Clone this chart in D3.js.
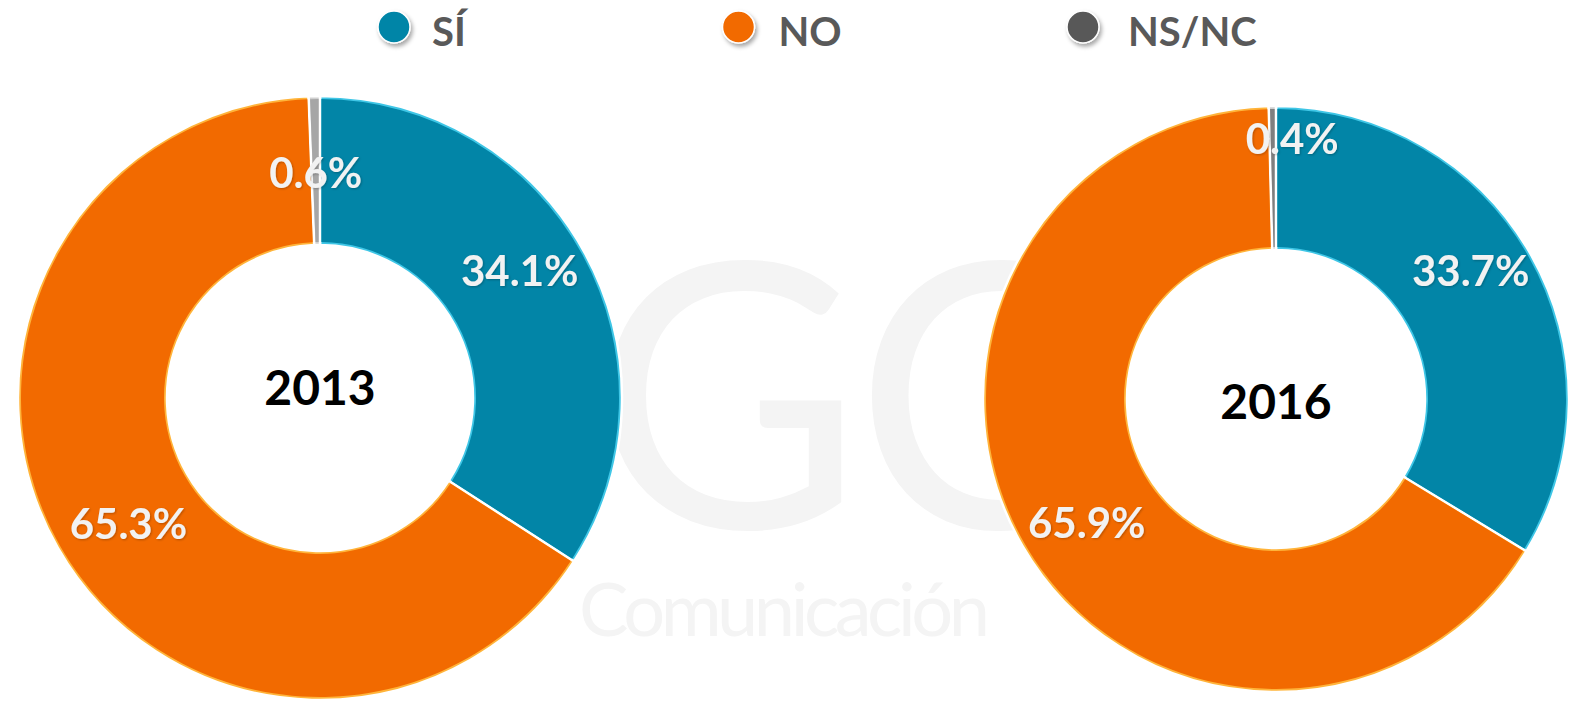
<!DOCTYPE html>
<html>
<head>
    <meta charset="utf-8">
    <title>SÍ / NO / NS-NC 2013 - 2016</title>
    <script src="https://cdn.jsdelivr.net/npm/d3@7/dist/d3.min.js"></script>
    <style>
        html, body { margin: 0; padding: 0; background: #fff; }
        svg { display: block; }
        text { font-family: Lato, "Open Sans", sans-serif; }
    </style>
</head>
<body>
<script>
    // datos
    var categories = ['SÍ', 'NO', 'NS/NC'];
    var years = ['2013', '2016'];
    var values2013 = [34.1, 65.3, 0.6];
    var values2016 = [33.7, 65.9, 0.4];

    var width = 1576, height = 701;
    var svg = d3.select('body').append('svg').attr('width', width).attr('height', height);

    var colors = d3.scaleOrdinal().domain(categories).range(['#0285a7', '#f26a00', '#595959']);
    var rimColors = d3.scaleOrdinal().domain(categories).range(['#3fc6e6', '#ffb43a', '#d6d6d6']);

    // cada donut: centro, radios, color del gris y ajustes de etiquetas
    var charts = [
        {year: years[0], values: values2013, cx: 320, cy: 398, R: 302, r: 153, gray: '#a6a6a6', yearDy: -10,
            nudge: [[0, -18], [6, 13], [0, 2]]},
        {year: years[1], values: values2016, cx: 1276, cy: 399, R: 293, r: 149, gray: '#7f7f7f', yearDy: 3,
            nudge: [[2, -20], [2, 13], [19, -39]]}
    ];

    var defs = svg.append('defs');
    defs.append('filter').attr('id', 'shadow').attr('x', '-50%').attr('y', '-50%').attr('width', '200%').attr('height', '200%')
        .append('feDropShadow').attr('dx', 2).attr('dy', 3).attr('stdDeviation', 2)
        .attr('flood-color', '#000').attr('flood-opacity', 0.35);
    defs.append('filter').attr('id', 'tshadow').attr('x', '-20%').attr('y', '-20%').attr('width', '140%').attr('height', '140%')
        .append('feDropShadow').attr('dx', 1).attr('dy', 1).attr('stdDeviation', 1)
        .attr('flood-color', '#000').attr('flood-opacity', 0.25);

    // marca de agua
    var wm = svg.append('g').attr('fill', '#f4f4f4');
    wm.append('text').attr('x', 592).attr('y', 528).attr('font-size', 370).attr('font-weight', 400)
        .attr('letter-spacing', -8).text('GC');
    wm.append('text').attr('x', 579).attr('y', 636).attr('font-size', 74).attr('font-weight', 400)
        .attr('textLength', 411).text('Comunicación');

    var pie = d3.pie().sort(null).value(function (d) { return d; });

    charts.forEach(function (c) {
        var g = svg.append('g').attr('transform', 'translate(' + c.cx + ',' + c.cy + ')');
        var arcs = pie(c.values);
        var arc = d3.arc().outerRadius(c.R).innerRadius(c.r);
        var inner = d3.arc().outerRadius(c.R - 3).innerRadius(c.r + 3)
            .padAngle(0.012).padRadius((c.R + c.r) / 2);
        var mid = d3.arc().outerRadius((c.R + c.r) / 2).innerRadius((c.R + c.r) / 2);

        function fillOf(i) { return i === 2 ? c.gray : colors(categories[i]); }

        g.selectAll('path.rim').data(arcs).enter().append('path')
            .attr('class', 'rim')
            .attr('d', arc)
            .attr('fill', function (d, i) { return i === 2 ? '#d0d0d0' : rimColors(categories[i]); })
            .attr('stroke', '#fff').attr('stroke-width', 2.5);

        g.selectAll('path.slice').data(arcs).enter().append('path')
            .attr('class', 'slice')
            .attr('d', inner)
            .attr('fill', function (d, i) { return fillOf(i); });

        g.selectAll('text.pct').data(arcs).enter().append('text')
            .attr('class', 'pct')
            .attr('x', function (d, i) { return mid.centroid(d)[0] + c.nudge[i][0]; })
            .attr('y', function (d, i) { return mid.centroid(d)[1] + c.nudge[i][1]; })
            .attr('dy', '0.36em')
            .attr('text-anchor', 'middle')
            .attr('font-size', 42).attr('font-weight', 700)
            .attr('fill', '#f2f2f2')
            .attr('filter', 'url(#tshadow)')
            .text(function (d) { return d3.format('.1f')(d.data) + '%'; });

        g.append('text')
            .attr('x', 0).attr('y', c.yearDy).attr('dy', '0.36em')
            .attr('text-anchor', 'middle')
            .attr('font-size', 48).attr('font-weight', 700)
            .attr('fill', '#000')
            .text(c.year);
    });

    // leyenda
    var lx = d3.scalePoint().domain(categories).range([394, 1083]);
    var legend = svg.selectAll('g.legend').data(categories).enter().append('g')
        .attr('class', 'legend')
        .attr('transform', function (d) { return 'translate(' + lx(d) + ',27)'; });
    legend.append('circle').attr('r', 16)
        .attr('fill', function (d) { return colors(d); })
        .attr('stroke', '#fff').attr('stroke-width', 1.5)
        .attr('filter', 'url(#shadow)');
    legend.append('text')
        .attr('x', function (d, i) { return [38, 40, 45][i]; })
        .attr('y', 19)
        .attr('font-size', 40).attr('font-weight', 700)
        .attr('fill', '#595959')
        .text(function (d) { return d; });
</script>
</body>
</html>
